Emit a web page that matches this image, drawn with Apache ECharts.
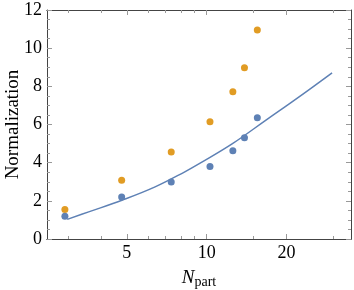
<!DOCTYPE html>
<html>
<head>
<meta charset="utf-8">
<script src="https://cdn.jsdelivr.net/npm/echarts@6/dist/echarts.min.js"></script>
<style>
html,body{margin:0;padding:0;background:#fff;}
#c{width:354px;height:290px;}
</style>
</head>
<body>
<div id="c"></div>
<script>
// Data
var nPart = [2.92, 4.78, 7.35, 10.29, 12.55, 13.88, 15.52];
var orangeVals = [1.55, 3.08, 4.56, 6.14, 7.71, 8.98, 10.95];
var blueVals = [1.19, 2.20, 2.99, 3.80, 4.62, 5.31, 6.35];
var curveN = [2.98, 3.59, 4.79, 6.39, 8.27, 9.41, 12.55, 16.73, 22.3, 29.7];
var curveVals = [1.03, 1.42, 2.03, 2.73, 3.52, 3.96, 5.01, 6.23, 7.45, 8.71];
var xMajorTicks = [5, 10, 20];
var xMinorTicks = [3, 4, 6, 7, 8, 9, 15, 30];

function zip(a, b) { return a.map(function (v, i) { return [v, b[i]]; }); }

var FONT = "Liberation Serif";
var frameColor = '#444';
var tickColor = '#999';

function xAxisBase(pos, showLabel, ticks, len) {
  return {
    type: 'log', logBase: 10, min: 2.5, max: 35, position: pos,
    axisLine: { show: true, lineStyle: { color: frameColor, width: 1 } },
    splitLine: { show: false },
    axisTick: { show: true, inside: true, length: len, customValues: ticks, lineStyle: { color: tickColor } },
    minorTick: { show: false },
    axisLabel: { show: showLabel, customValues: ticks, color: '#000', fontFamily: FONT, fontSize: 18, margin: 5 }
  };
}

var xA0 = xAxisBase('bottom', true, xMajorTicks, 5);
xA0.name = '{i|N}{s|part}';
xA0.nameLocation = 'middle';
xA0.nameGap = 27;
xA0.nameMoveOverlap = false;
xA0.nameTextStyle = { rich: {
  i: { fontFamily: FONT, fontStyle: 'italic', fontSize: 19, color: '#000' },
  s: { fontFamily: FONT, fontSize: 14, color: '#000', verticalAlign: 'bottom', padding: [9, 0, 0, 0] }
} };
var xA1 = xAxisBase('bottom', false, xMinorTicks, 3);
var xA2 = xAxisBase('top', false, xMajorTicks, 5);
var xA3 = xAxisBase('top', false, xMinorTicks, 3);

function yAxisBase(pos, showLabel) {
  return {
    type: 'value', min: 0, max: 12, interval: 2, position: pos,
    axisLine: { show: true, lineStyle: { color: frameColor, width: 1 } },
    splitLine: { show: false },
    axisTick: { show: true, inside: true, length: 5, lineStyle: { color: tickColor } },
    minorTick: { show: true, splitNumber: 4, length: 3, lineStyle: { color: tickColor } },
    axisLabel: { show: showLabel, color: '#000', fontFamily: FONT, fontSize: 18, margin: 5 }
  };
}
var yA0 = yAxisBase('left', true);
yA0.name = 'Normalization';
yA0.nameLocation = 'middle';
yA0.nameGap = 24;
yA0.nameMoveOverlap = false;
yA0.nameTextStyle = { fontFamily: FONT, fontSize: 19, color: '#000' };
var yA1 = yAxisBase('right', false);

var chart = echarts.init(document.getElementById('c'), null, { renderer: 'canvas' });
chart.setOption({
  animation: false,
  grid: { left: 47, right: 3, top: 10, bottom: 51, containLabel: false, outerBoundsMode: 'none' },
  xAxis: [xA0, xA1, xA2, xA3],
  yAxis: [yA0, yA1],
  series: [
    { type: 'line', xAxisIndex: 0, yAxisIndex: 0, data: zip(curveN, curveVals), smooth: 0.4,
      showSymbol: false, lineStyle: { color: '#5E81B5', width: 1.5 }, z: 2 },
    { type: 'scatter', xAxisIndex: 0, yAxisIndex: 0, data: zip(nPart, orangeVals), symbolSize: 7,
      itemStyle: { color: '#E19C24', opacity: 1 }, z: 3 },
    { type: 'scatter', xAxisIndex: 0, yAxisIndex: 0, data: zip(nPart, blueVals), symbolSize: 7,
      itemStyle: { color: '#5E81B5', opacity: 1 }, z: 4 }
  ]
});
</script>
</body>
</html>
